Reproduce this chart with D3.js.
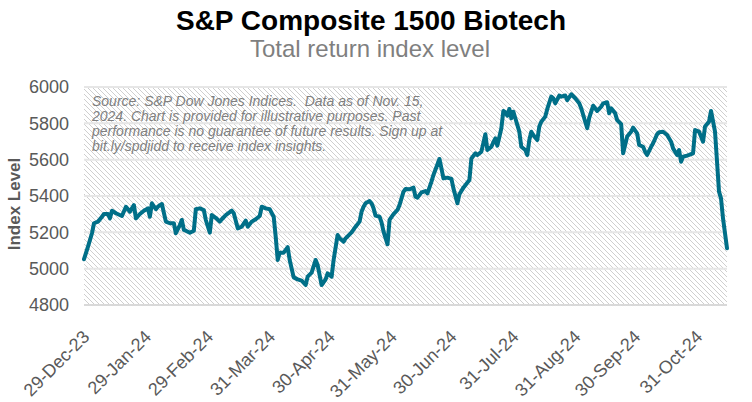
<!DOCTYPE html>
<html>
<head>
<meta charset="utf-8">
<script src="https://cdn.jsdelivr.net/npm/d3@7"></script>
<style>
  html, body { margin: 0; padding: 0; background: #fff; }
  svg { display: block; font-family: "Liberation Sans", Arial, sans-serif; }
</style>
</head>
<body>
<svg id="chart" width="752" height="402"></svg>
<script>
const dates = [
"2023-12-29","2023-12-31","2024-01-02","2024-01-03","2024-01-05","2024-01-07","2024-01-08","2024-01-10","2024-01-11","2024-01-12",
"2024-01-14","2024-01-17","2024-01-19","2024-01-21","2024-01-23","2024-01-24","2024-01-26","2024-01-28","2024-01-30","2024-01-31",
"2024-02-01","2024-02-03","2024-02-04","2024-02-06","2024-02-08","2024-02-10","2024-02-12","2024-02-13","2024-02-15","2024-02-16",
"2024-02-17","2024-02-18","2024-02-20","2024-02-22","2024-02-23","2024-02-25","2024-02-27","2024-02-28","2024-03-01","2024-03-02",
"2024-03-04","2024-03-06","2024-03-07","2024-03-09","2024-03-12","2024-03-13","2024-03-15","2024-03-17","2024-03-19","2024-03-20",
"2024-03-22","2024-03-24","2024-03-26","2024-03-27","2024-03-29","2024-03-31","2024-04-02","2024-04-03","2024-04-04","2024-04-05",
"2024-04-07","2024-04-09","2024-04-10","2024-04-12","2024-04-14","2024-04-16","2024-04-18","2024-04-19","2024-04-21","2024-04-23",
"2024-04-24","2024-04-26","2024-04-28","2024-04-29","2024-05-01","2024-05-02","2024-05-04","2024-05-05","2024-05-07","2024-05-08",
"2024-05-10","2024-05-11","2024-05-13","2024-05-15","2024-05-16","2024-05-17","2024-05-18","2024-05-20","2024-05-21","2024-05-22",
"2024-05-23","2024-05-25","2024-05-26","2024-05-27","2024-05-29","2024-05-30","2024-06-01","2024-06-03","2024-06-04","2024-06-06",
"2024-06-07","2024-06-09","2024-06-11","2024-06-12","2024-06-13","2024-06-15","2024-06-17","2024-06-18","2024-06-20","2024-06-21",
"2024-06-24","2024-06-25","2024-06-26","2024-06-28","2024-06-30","2024-07-01","2024-07-03","2024-07-04","2024-07-06","2024-07-09",
"2024-07-10","2024-07-12","2024-07-13","2024-07-15","2024-07-17","2024-07-18","2024-07-20","2024-07-21","2024-07-22","2024-07-23",
"2024-07-25","2024-07-26","2024-07-27","2024-07-28","2024-07-29","2024-07-30","2024-07-31","2024-08-01","2024-08-03","2024-08-04",
"2024-08-06","2024-08-07","2024-08-08","2024-08-09","2024-08-10","2024-08-12","2024-08-13","2024-08-14","2024-08-16","2024-08-17",
"2024-08-19","2024-08-20","2024-08-21","2024-08-23","2024-08-24","2024-08-26","2024-08-27","2024-08-29","2024-08-31","2024-09-02",
"2024-09-03","2024-09-05","2024-09-06","2024-09-07","2024-09-09","2024-09-11","2024-09-13","2024-09-14","2024-09-16","2024-09-17",
"2024-09-18","2024-09-20","2024-09-21","2024-09-23","2024-09-24","2024-09-26","2024-09-28","2024-09-29","2024-10-01","2024-10-02",
"2024-10-04","2024-10-05","2024-10-06","2024-10-08","2024-10-09","2024-10-11","2024-10-12","2024-10-14","2024-10-16","2024-10-18",
"2024-10-19","2024-10-21","2024-10-22","2024-10-23","2024-10-24","2024-10-26","2024-10-27","2024-10-29","2024-10-30","2024-11-01",
"2024-11-02","2024-11-03","2024-11-04","2024-11-06","2024-11-07","2024-11-09","2024-11-10","2024-11-11","2024-11-12","2024-11-13",
"2024-11-15"
];
const indexLevel = [
5052,5121,5195,5250,5259,5286,5301,5301,5277,5319,
5305,5290,5341,5314,5350,5277,5301,5319,5332,5286,
5360,5327,5341,5356,5259,5250,5250,5195,5240,5268,
5213,5209,5198,5209,5327,5332,5323,5268,5198,5295,
5280,5259,5272,5295,5319,5305,5222,5231,5264,5231,
5259,5272,5290,5341,5332,5327,5286,5176,5048,5088,
5088,5118,5048,4952,4941,4934,4910,4956,4978,5048,
5020,4910,4941,4974,4956,5048,5185,5167,5148,5167,
5189,5200,5231,5259,5314,5341,5360,5372,5360,5332,
5292,5286,5255,5204,5134,5268,5300,5323,5350,5424,
5438,5437,5446,5396,5391,5420,5427,5415,5479,5516,
5604,5552,5497,5501,5494,5442,5360,5410,5446,5488,
5607,5635,5626,5644,5740,5653,5671,5696,5717,5677,
5773,5868,5861,5842,5879,5828,5864,5828,5754,5671,
5653,5626,5708,5754,5736,5708,5782,5809,5837,5879,
5947,5938,5910,5953,5947,5953,5928,5960,5938,5910,
5883,5809,5773,5830,5897,5868,5892,5910,5916,5855,
5883,5855,5818,5795,5635,5727,5754,5776,5745,5681,
5671,5644,5626,5671,5690,5740,5751,5754,5736,5699,
5662,5626,5653,5589,5616,5622,5626,5635,5763,5754,
5727,5699,5782,5809,5868,5754,5589,5424,5387,5277,
5112
];
const yTicks = [4800, 5000, 5200, 5400, 5600, 5800, 6000];
const xTickDates = ["2023-12-29","2024-01-29","2024-02-29","2024-03-31","2024-04-30","2024-05-31","2024-06-30","2024-07-31","2024-08-31","2024-09-30","2024-10-31"];
const xTickLabels = ["29-Dec-23","29-Jan-24","29-Feb-24","31-Mar-24","30-Apr-24","31-May-24","30-Jun-24","31-Jul-24","31-Aug-24","30-Sep-24","31-Oct-24"];
const titleText = "S&P Composite 1500 Biotech";
const subtitleText = "Total return index level";
const yAxisTitle = "Index Level";
const noteLines = [
  "Source: S&P Dow Jones Indices.  Data as of Nov. 15,",
  "2024. Chart is provided for illustrative purposes. Past",
  "performance is no guarantee of future results. Sign up at",
  "bit.ly/spdjidd to receive index insights."
];

const parse = d3.timeParse("%Y-%m-%d");
const data = dates.map((d, i) => ({ date: parse(d), value: indexLevel[i] }));

const svg = d3.select("#chart");
const plot = { left: 84, right: 727, top: 87, bottom: 305 };

const x = d3.scaleTime()
  .domain([parse("2023-12-29"), parse("2024-11-15")])
  .range([plot.left, plot.right]);
const y = d3.scaleLinear()
  .domain([4800, 6000])
  .range([plot.bottom, plot.top]);

// hatch pattern
const defs = svg.append("defs");
const pat = defs.append("pattern")
  .attr("id", "hatch")
  .attr("patternUnits", "userSpaceOnUse")
  .attr("width", 5).attr("height", 5);
pat.append("rect").attr("width", 5).attr("height", 5).attr("fill", "#ffffff");
pat.append("path")
  .attr("d", "M0,0 L5,5 M-1,4 L1,6 M4,-1 L6,1")
  .attr("stroke", "#cfcfcf").attr("stroke-width", 1);

svg.append("rect")
  .attr("x", plot.left).attr("y", plot.top)
  .attr("width", plot.right - plot.left)
  .attr("height", plot.bottom - plot.top)
  .attr("fill", "url(#hatch)");

// gridlines
svg.append("g")
  .selectAll("line")
  .data(yTicks)
  .join("line")
  .attr("x1", plot.left).attr("x2", plot.right)
  .attr("y1", d => y(d)).attr("y2", d => y(d))
  .attr("stroke", d => d === 4800 ? "#d9d9d9" : "#e6e6e6")
  .attr("stroke-width", 2);

// y axis
const yAxis = svg.append("g")
  .attr("transform", `translate(${plot.left - 15},0)`)
  .call(d3.axisLeft(y).tickValues(yTicks).tickSize(0).tickPadding(0).tickFormat(d3.format("d")));
yAxis.select(".domain").remove();
yAxis.selectAll("text")
  .attr("font-size", 18)
  .attr("font-family", "'Liberation Sans', Arial, sans-serif")
  .attr("fill", "#595959");

// x axis
const xAxis = svg.append("g")
  .attr("transform", `translate(0,${plot.bottom})`)
  .call(d3.axisBottom(x)
    .tickValues(xTickDates.map(parse))
    .tickSize(0)
    .tickFormat((d, i) => xTickLabels[i]));
xAxis.select(".domain").remove();
xAxis.selectAll("text")
  .attr("font-size", 18)
  .attr("font-family", "'Liberation Sans', Arial, sans-serif")
  .attr("fill", "#595959")
  .attr("text-anchor", "end")
  .attr("dy", null)
  .attr("y", null)
  .attr("transform", "translate(6,33) rotate(-45)");

// line
svg.append("path")
  .datum(data)
  .attr("fill", "none")
  .attr("stroke", "#006f88")
  .attr("stroke-width", 4)
  .attr("stroke-linejoin", "round")
  .attr("stroke-linecap", "round")
  .attr("d", d3.line().x(d => x(d.date)).y(d => y(d.value)));

// note
svg.append("text")
  .attr("font-size", 14)
  .attr("font-style", "italic")
  .attr("fill", "#7f7f7f")
  .style("white-space", "pre")
  .selectAll("tspan")
  .data(noteLines)
  .join("tspan")
  .attr("x", 92)
  .attr("y", (d, i) => 106 + i * 15)
  .text(d => d);

// titles
svg.append("text")
  .attr("x", 371).attr("y", 30)
  .attr("text-anchor", "middle")
  .attr("font-size", 28)
  .attr("font-weight", "bold")
  .attr("fill", "#000")
  .text(titleText);

svg.append("text")
  .attr("x", 370).attr("y", 57)
  .attr("text-anchor", "middle")
  .attr("font-size", 24)
  .attr("fill", "#7f7f7f")
  .text(subtitleText);

svg.append("text")
  .attr("transform", "translate(20,204) rotate(-90)")
  .attr("text-anchor", "middle")
  .attr("font-size", 17)
  .attr("font-weight", "bold")
  .attr("fill", "#595959")
  .text(yAxisTitle);
</script>
</body>
</html>
